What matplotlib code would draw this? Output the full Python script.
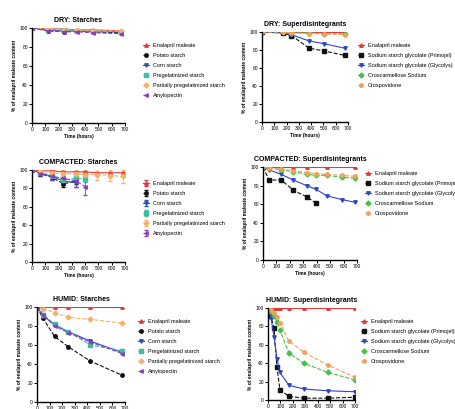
import matplotlib.pyplot as plt
import numpy as np

W, H = 456, 409

starch_names = ["Enalapril maleate", "Potato starch", "Corn starch",
                "Pregelatinized starch", "Partially pregelatinized starch", "Amylopectin"]
starch_colors = ["#e5383b", "#111111", "#2b50b8", "#3bbfa0", "#f2b36b", "#8a3fbf"]
starch_markers = ["^", "o", "v", "s", "D", "<"]

superdis_names = ["Enalapril maleate", "Sodium starch glycolate (Primojel)",
                  "Sodium starch glycolate (Glycolys)", "Croscarmellose Sodium", "Crospovidone"]
superdis_colors = ["#e5383b", "#111111", "#2f45c8", "#43c34a", "#f5a05a"]
superdis_markers = ["^", "s", "v", "D", "o"]

# DRY
dry_starch_t = [0, 120, 240, 336, 456, 672]
dry_starch = [
    [100, 99, 99, 98, 98, 97],
    [100, 97, 96, 97, 96, 95],
    [100, 98, 97, 97, 96, 96],
    [100, 98, 98, 97, 97, 96],
    [100, 99, 98, 98, 97, 97],
    [100, 97, 96, 96, 95, 94],
]
dry_sd_t = [0, 168, 240, 384, 504, 672]
dry_sd = [
    [100, 100, 100, 100, 100, 100],
    [100, 99, 96, 82, 79, 74],
    [100, 99, 97, 90, 87, 82],
    [100, 100, 99, 99, 98, 98],
    [100, 100, 99, 98, 98, 97],
]

# COMPACTED
comp_starch_t = [0, 62, 150, 237, 332, 400, 487, 587, 687]
comp_starch = [
    [100, 99, 99, 98, 98, 98, 97, 97, 97],
    [100, 96, 92, 85, 88, np.nan, np.nan, np.nan, np.nan],
    [100, 97, 93, 88, 86, np.nan, np.nan, np.nan, np.nan],
    [100, 97, 94, 89, 91, 90, np.nan, np.nan, np.nan],
    [100, 99, 97, 96, 96, 95, 95, 94, 93],
    [100, 96, 93, 91, 88, 82, np.nan, np.nan, np.nan],
]
comp_starch_err = [
    [0, 1, 1, 1, 1, 1, 1, 1, 1],
    [0, 2, 3, 4, 3, 0, 0, 0, 0],
    [0, 2, 3, 3, 4, 0, 0, 0, 0],
    [0, 2, 3, 4, 3, 3, 0, 0, 0],
    [0, 1, 3, 4, 5, 5, 6, 6, 7],
    [0, 3, 4, 5, 6, 9, 0, 0, 0],
]
comp_sd_t = [0, 45, 137, 225, 325, 395, 475, 587, 687]
comp_sd = [
    [100, 100, 100, 100, 100, np.nan, 100, np.nan, 100],
    [100, 86, 86, 75, 68, 61, np.nan, np.nan, np.nan],
    [100, 97, 92, 86, 80, 76, 69, 65, 62],
    [100, 99, 97, 95, 92, 91, 91, 89, 88],
    [100, 99, 98, 96, 94, 93, 92, 91, 90],
]

# HUMID
humid_starch_t = [0, 48, 140, 250, 425, 680]
humid_starch = [
    [100, 100, 100, 100, 100, 100],
    [100, 88, 69, 58, 43, 28],
    [100, 91, 81, 74, 64, 52],
    [100, 92, 82, 74, 60, 54],
    [100, 98, 94, 89, 87, 83],
    [100, 92, 80, 73, 63, 51],
]
humid_sd_t = [0, 24, 48, 72, 96, 168, 288, 480, 696]
humid_sd = [
    [100, 100, 100, 100, 100, 100, 100, 100, 100],
    [100, 91, 78, 36, 11, 4, 2, 2, 3],
    [100, 89, 69, 45, 30, 16, 12, 10, 9],
    [100, 96, 91, 85, 76, 51, 40, 30, 22],
    [100, 98, 95, 90, 84, 64, 52, 38, 25],
]

panels = [
    ("DRY: Starches", (32, 28, 125, 123), dry_starch_t, dry_starch, None, starch_names, starch_colors, starch_markers, (140, 40)),
    ("DRY: Superdisintegrants", (262, 32, 348, 122), dry_sd_t, dry_sd, None, superdis_names, superdis_colors, superdis_markers, (355, 40)),
    ("COMPACTED: Starches", (32, 170, 125, 262), comp_starch_t, comp_starch, comp_starch_err, starch_names, starch_colors, starch_markers, (140, 178)),
    ("COMPACTED: Superdisintegrants", (263, 167, 357, 260), comp_sd_t, comp_sd, None, superdis_names, superdis_colors, superdis_markers, (362, 168)),
    ("HUMID: Starches", (37, 307, 125, 402), humid_starch_t, humid_starch, None, starch_names, starch_colors, starch_markers, (135, 316)),
    ("HUMID: Superdisintegrants", (268, 308, 355, 400), humid_sd_t, humid_sd, None, superdis_names, superdis_colors, superdis_markers, (358, 316)),
]

fig = plt.figure(figsize=(W / 100, H / 100), dpi=100)
plt.rcParams['font.family'] = ['Liberation Sans', 'DejaVu Sans']

for title, (l, t, r, b), times, series, errs, names, colors, markers, (lx, ly) in panels:
    ax = fig.add_axes([l / W, 1 - b / H, (r - l) / W, (b - t) / H])
    for i in range(len(series)):
        y = np.array(series[i], dtype=float)
        ok = ~np.isnan(y)
        ls = "-" if i in (0, 2) else "--"
        if errs is not None:
            ax.errorbar(np.array(times)[ok], y[ok], yerr=np.array(errs[i])[ok], color=colors[i],
                        marker=markers[i], ms=2.5, lw=0.8, ls=ls, elinewidth=0.6, capsize=1.2,
                        label=names[i])
        else:
            ax.plot(np.array(times)[ok], y[ok], color=colors[i], marker=markers[i], ms=2.5,
                    lw=0.8, ls=ls, label=names[i])
    ax.set_xlim(0, 700)
    ax.set_ylim(0, 100)
    ax.set_xticks(range(0, 701, 100))
    ax.set_yticks(range(0, 101, 20))
    ax.spines['top'].set_visible(False)
    ax.spines['right'].set_visible(False)
    ax.spines['left'].set_linewidth(1.0)
    ax.spines['bottom'].set_linewidth(1.0)
    ax.tick_params(labelsize=3.5, length=2, width=0.7, pad=1)
    ax.set_title(title, fontsize=5, fontweight='bold', pad=4)
    ax.set_xlabel("Time (hours)", fontsize=3.5, fontweight='bold', labelpad=1)
    ax.set_ylabel("% of enalapril maleate content", fontsize=3.5, fontweight='bold', labelpad=2)
    fig.legend(*ax.get_legend_handles_labels(), loc='upper left',
               bbox_to_anchor=(lx / W, 1 - ly / H), fontsize=4, frameon=False,
               handlelength=1.2, handletextpad=0.6, labelspacing=0.9, borderpad=0)

fig.savefig("out.png", dpi=100)
